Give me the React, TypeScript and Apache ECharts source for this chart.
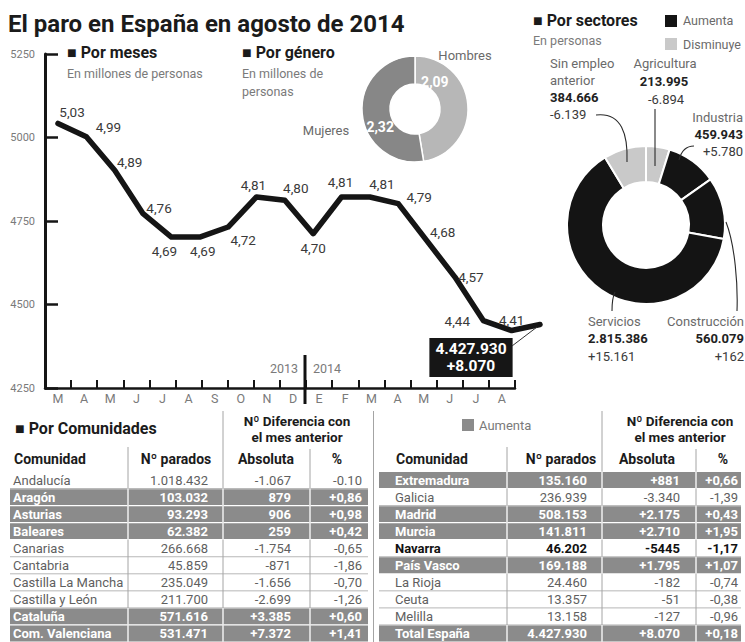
import React, { useEffect, useRef } from "react";
import * as echarts from "echarts";

const FONT = "Roboto, 'Noto Sans', sans-serif";

// ---------- Por meses (miles de personas) ----------
const monthLabels = ["M", "A", "M", "J", "J", "A", "S", "O", "N", "D", "E", "F", "M", "A", "M", "J", "J", "A"];
const paroMiles = [5030, 4990, 4890, 4760, 4690, 4690, 4720, 4810, 4800, 4700, 4810, 4810, 4790, 4680, 4570, 4440, 4410, 4428];
const yMin = 4250;
const yMax = 5250;
const yStep = 250;
const yearLabels = ["2013", "2014"];
const totalParados = 4427930;
const totalCambio = 8070;

// ---------- Por género (millones) ----------
const generoNames = ["Hombres", "Mujeres"];
const generoValues = [2.09, 2.32];

// ---------- Por sectores (personas) ----------
const sectorNames = ["Agricultura", "Industria", "Construcción", "Servicios", "Sin empleo anterior"];
const sectorValues = [213995, 459943, 560079, 2815386, 384666];
const sectorChanges = [-6894, 5780, 162, 15161, -6139];

// ---------- Por comunidades ----------
const comLeftNames = ["Andalucía", "Aragón", "Asturias", "Baleares", "Canarias", "Cantabria", "Castilla La Mancha", "Castilla y León", "Cataluña", "Com. Valenciana"];
const comLeftParados = ["1.018.432", "103.032", "93.293", "62.382", "266.668", "45.859", "235.049", "211.700", "571.616", "531.471"];
const comLeftAbs = ["-1.067", "879", "906", "259", "-1.754", "-871", "-1.656", "-2.699", "+3.385", "+7.372"];
const comLeftPct = ["-0.10", "+0,86", "+0,98", "+0,42", "-0,65", "-1,86", "-0,70", "-1,26", "+0,60", "+1,41"];

const comRightNames = ["Extremadura", "Galicia", "Madrid", "Murcia", "Navarra", "País Vasco", "La Rioja", "Ceuta", "Melilla", "Total España"];
const comRightParados = ["135.160", "236.939", "508.153", "141.811", "46.202", "169.188", "24.460", "13.357", "13.158", "4.427.930"];
const comRightAbs = ["+881", "-3.340", "+2.175", "+2.710", "-5445", "+1.795", "-182", "-51", "-127", "+8.070"];
const comRightPct = ["+0,66", "-1,39", "+0,43", "+1,95", "-1,17", "+1,07", "-0,74", "-0,38", "-0,96", "+0,18"];
const boldRows = ["Navarra"];

// label nudges for the line labels (layout only)
const pointLabelNudge: [number, number][] = [
  [14, -11], [22, -10], [15, -8], [16, -6], [-7, 14], [3, 14], [15, 13], [-3, -12], [11, -12],
  [0, 14], [-1, -15], [12, -13], [21, -7], [16, -8], [16, 0], [-26, 0], [0, -11], [-69, 33],
];
const generoLabelNudge: [number, number][] = [[-22, -24], [7, 15]];

const fmt = (n: number) => Math.abs(n).toString().replace(/\B(?=(\d{3})+(?!\d))/g, ".");
const fmtSigned = (n: number) => (n >= 0 ? "+" : "-") + fmt(n);

function buildOption() {
  const g: any[] = [];
  const T = (x: number, y: number, text: string, o: any = {}) =>
    g.push({
      type: "text",
      x,
      y,
      silent: true,
      z: o.z ?? 10,
      style: {
        text,
        font: `${o.w || "normal"} ${o.s || 13}px ${FONT}`,
        fill: o.c || "#5a5a5a",
        align: o.a || "left",
        textAlign: o.a || "left",
        verticalAlign: "middle",
        textVerticalAlign: "middle",
      },
    });
  const L = (x1: number, y1: number, x2: number, y2: number, c: string, w: number, z = 5) =>
    g.push({ type: "line", silent: true, z, shape: { x1, y1, x2, y2 }, style: { stroke: c, lineWidth: w } });
  const R = (x: number, y: number, w: number, h: number, fill: string, z = 3) =>
    g.push({ type: "rect", silent: true, z, shape: { x, y, width: w, height: h }, style: { fill } });
  const B = (x1: number, y1: number, cpx1: number, cpy1: number, cpx2: number, cpy2: number, x2: number, y2: number) =>
    g.push({
      type: "bezierCurve",
      silent: true,
      z: 5,
      shape: { x1, y1, x2, y2, cpx1, cpy1, cpx2, cpy2 },
      style: { stroke: "#2a2a2a", lineWidth: 1.1, fill: null },
    });

  // Title
  T(8, 24, "El paro en España en agosto de 2014", { w: "bold", s: 24, c: "#1b1b1b" });

  // Por meses headings
  T(67, 52, "■ Por meses", { w: "bold", s: 16, c: "#1b1b1b" });
  T(67, 73, "En millones de personas", { s: 12.5, c: "#7a7a7a" });
  // year divider
  L(305, 355, 305, 404, "#111", 3, 8);
  T(298, 368, yearLabels[0], { s: 12.5, c: "#7a7a7a", a: "right" });
  T(313, 368, yearLabels[1], { s: 12.5, c: "#7a7a7a" });
  // connector to total box
  L(512, 346, 537, 327, "#333", 1, 8);

  // Por género
  T(242, 52, "■ Por género", { w: "bold", s: 16, c: "#1b1b1b" });
  T(242, 73, "En millones de", { s: 12.5, c: "#7a7a7a" });
  T(242, 91, "personas", { s: 12.5, c: "#7a7a7a" });
  T(465, 55, generoNames[0], { s: 13, c: "#6a6a6a", a: "center" });
  T(326, 130, generoNames[1], { s: 13, c: "#6a6a6a", a: "center" });

  // Por sectores
  T(533, 20, "■ Por sectores", { w: "bold", s: 16, c: "#1b1b1b" });
  T(533, 40, "En personas", { s: 12.5, c: "#7a7a7a" });
  R(665, 15, 12, 12, "#141414", 6);
  T(683, 20, "Aumenta", { s: 12.5, c: "#6a6a6a" });
  R(665, 38, 12, 12, "#c9c9c9", 6);
  T(683, 44, "Disminuye", { s: 12.5, c: "#6a6a6a" });

  const nameC = "#6a6a6a";
  const valC = "#222";
  const chgC = "#3a3a3a";
  // Sin empleo anterior (index 4)
  T(550, 63, "Sin empleo", { c: nameC });
  T(550, 80, "anterior", { c: nameC });
  T(550, 97, fmt(sectorValues[4]), { w: "bold", c: valC });
  T(550, 114, fmtSigned(sectorChanges[4]), { c: chgC });
  B(596, 115, 622, 112, 628, 135, 627, 162);
  // Agricultura (0)
  T(665, 63, sectorNames[0], { c: nameC, a: "center" });
  T(664, 81, fmt(sectorValues[0]), { w: "bold", c: valC, a: "center" });
  T(666, 99, fmtSigned(sectorChanges[0]), { c: chgC, a: "center" });
  L(655, 109, 655, 166, "#2a2a2a", 1.1, 5);
  // Industria (1)
  T(743, 117, sectorNames[1], { c: nameC, a: "right" });
  T(743, 134, fmt(sectorValues[1]), { w: "bold", c: valC, a: "right" });
  T(743, 151, fmtSigned(sectorChanges[1]), { c: chgC, a: "right" });
  B(694, 146, 686, 146, 681, 152, 679, 160);
  // Construcción (2)
  T(744, 321, sectorNames[2], { c: nameC, a: "right" });
  T(744, 338, fmt(sectorValues[2]), { w: "bold", c: valC, a: "right" });
  T(744, 356, fmtSigned(sectorChanges[2]), { c: chgC, a: "right" });
  B(726, 222, 735, 245, 738, 285, 737, 311);
  // Servicios (3)
  T(588, 321, sectorNames[3], { c: nameC });
  T(588, 338, fmt(sectorValues[3]), { w: "bold", c: valC });
  T(588, 356, fmtSigned(sectorChanges[3]), { c: chgC });
  B(615, 292, 612, 298, 612, 304, 612, 311);

  // ---------- Tables ----------
  T(15, 428, "■ Por Comunidades", { w: "bold", s: 16, c: "#1b1b1b" });
  R(462, 419, 12, 12, "#8b8b8b", 6);
  T(479, 425, "Aumenta", { s: 13, c: "#7a7a7a" });

  const rowTop = 471.5;
  const rowH = 17.05;
  const bottom = rowTop + rowH * 10;
  const hdr = (cx: number) => {
    T(cx, 421, "Nº Diferencia con", { w: "bold", s: 13.5, c: "#1b1b1b", a: "center" });
    T(cx, 437, "el mes anterior", { w: "bold", s: 13.5, c: "#1b1b1b", a: "center" });
  };
  hdr(297);
  hdr(680);

  const drawTable = (
    names: string[],
    parados: string[],
    abs: string[],
    pct: string[],
    cols: number[],
    tx: number[],
    headCx: number[]
  ) => {
    // column headers
    T(tx[0] + 1, 459, "Comunidad", { w: "bold", s: 14, c: "#1b1b1b" });
    T(headCx[0], 459, "Nº parados", { w: "bold", s: 14, c: "#1b1b1b", a: "center" });
    T(headCx[1], 459, "Absoluta", { w: "bold", s: 14, c: "#1b1b1b", a: "center" });
    T(headCx[2], 459, "%", { w: "bold", s: 14, c: "#1b1b1b", a: "center" });
    // vertical dividers
    L(cols[1], 447, cols[1], bottom, "#9a9a9a", 0.9, 2);
    L(cols[2], 411, cols[2], bottom, "#9a9a9a", 0.9, 2);
    L(cols[3], 449, cols[3], bottom, "#9a9a9a", 0.9, 2);
    names.forEach((n, i) => {
      const y = rowTop + i * rowH;
      const up = pct[i].startsWith("+");
      const bold = boldRows.includes(n);
      if (up) {
        R(cols[0], y + 0.6, cols[4] - cols[0], rowH - 1.2, "#8b8b8b", 3);
        for (let k = 1; k <= 3; k++) L(cols[k], y, cols[k], y + rowH, "#ffffff", 1.3, 4);
      } else if (i < names.length - 1) {
        L(cols[0], y + rowH, cols[4], y + rowH, "#a5a5a5", 0.8, 2);
      }
      const c = up ? "#ffffff" : bold ? "#111" : "#5f5f5f";
      const w = up || bold ? "bold" : "normal";
      const cy = y + rowH / 2 + 0.5;
      T(tx[0], cy, n, { c, w, s: 13 });
      T(tx[1], cy, parados[i], { c, w, s: 13, a: "right" });
      T(tx[2], cy, abs[i], { c, w, s: 13, a: "right" });
      T(tx[3], cy, pct[i], { c, w, s: 13, a: "right" });
    });
  };
  drawTable(comLeftNames, comLeftParados, comLeftAbs, comLeftPct, [10, 128, 223, 310, 368], [13, 208, 291, 362], [176, 266, 337]);
  drawTable(comRightNames, comRightParados, comRightAbs, comRightPct, [379, 507, 602, 696, 741], [395, 587, 680, 738], [561, 647, 723]);
  L(373.5, 411, 373.5, bottom, "#9a9a9a", 0.9, 2);

  const lastIdx = paroMiles.length - 1;

  return {
    animation: false,
    backgroundColor: "#ffffff",
    textStyle: { fontFamily: FONT },
    grid: [
      { left: 45, top: 54, width: 470, height: 334 },
      { left: 58, top: 50, width: 482, height: 334 },
    ],
    xAxis: [
      {
        type: "category",
        gridIndex: 0,
        data: monthLabels,
        boundaryGap: true,
        axisLine: { show: true, lineStyle: { color: "#151515", width: 2.5 } },
        axisTick: { show: true, inside: true, length: 8, lineStyle: { color: "#151515", width: 2 } },
        axisLabel: { color: "#7a7a7a", fontSize: 12.5, margin: 4, fontFamily: FONT },
        splitLine: { show: false },
      },
      { type: "category", gridIndex: 1, data: monthLabels, boundaryGap: false, show: false },
    ],
    yAxis: [
      {
        type: "value",
        gridIndex: 0,
        min: yMin,
        max: yMax,
        interval: yStep,
        axisLine: { show: true, lineStyle: { color: "#151515", width: 3 } },
        axisTick: { show: true, inside: true, length: 13, lineStyle: { color: "#151515", width: 2.5 } },
        axisLabel: { color: "#7a7a7a", fontSize: 11, margin: 10, fontFamily: FONT, formatter: (v: number) => String(v) },
        splitLine: { show: false },
      },
      { type: "value", gridIndex: 1, min: yMin, max: yMax, show: false },
    ],
    series: [
      {
        type: "line",
        xAxisIndex: 1,
        yAxisIndex: 1,
        silent: true,
        symbol: "circle",
        symbolSize: 2,
        itemStyle: { color: "#151515" },
        lineStyle: { color: "#151515", width: 5.5, join: "round", cap: "round" },
        z: 6,
        data: paroMiles.map((v, i) =>
          i === lastIdx
            ? {
                value: v,
                label: {
                  show: true,
                  position: "inside",
                  offset: pointLabelNudge[i],
                  backgroundColor: "#161616",
                  color: "#ffffff",
                  fontWeight: "bold",
                  fontSize: 15.5,
                  lineHeight: 17,
                  padding: [3, 6, 2, 6],
                  align: "center",
                },
              }
            : { value: v, label: { offset: pointLabelNudge[i] } }
        ),
        label: {
          show: true,
          position: "inside",
          color: "#3a3a3a",
          fontSize: 13.5,
          fontFamily: FONT,
          formatter: (p: any) =>
            p.dataIndex === lastIdx
              ? `${fmt(totalParados)}\n${fmtSigned(totalCambio)}`
              : (p.value / 1000).toFixed(2).replace(".", ","),
        },
      },
      {
        type: "pie",
        silent: true,
        center: [415, 109],
        radius: [25, 53],
        startAngle: 90,
        clockwise: true,
        emphasis: { disabled: true },
        itemStyle: { borderColor: "#ffffff", borderWidth: 1.5 },
        data: generoNames.map((n, i) => ({
          name: n,
          value: generoValues[i],
          itemStyle: { color: i === 0 ? "#b7b7b7" : "#878787" },
        })),
        label: {
          show: true,
          position: "inside",
          color: "#ffffff",
          fontWeight: "bold",
          fontSize: 14,
          fontFamily: FONT,
          formatter: (p: any) => p.value.toFixed(2).replace(".", ","),
        },
        labelLayout: (p: any) => ({ dx: generoLabelNudge[p.dataIndex][0], dy: generoLabelNudge[p.dataIndex][1] }),
        labelLine: { show: false },
      },
      {
        type: "pie",
        silent: true,
        center: [646, 225],
        radius: [43, 79],
        startAngle: 90,
        clockwise: true,
        emphasis: { disabled: true },
        itemStyle: { borderColor: "#ffffff", borderWidth: 2 },
        label: { show: false },
        labelLine: { show: false },
        data: sectorNames.map((n, i) => ({
          name: n,
          value: sectorValues[i],
          itemStyle: { color: sectorChanges[i] > 0 ? "#141414" : "#c9c9c9" },
        })),
      },
    ],
    graphic: { elements: g },
  };
}

export default function App() {
  const ref = useRef<HTMLDivElement>(null);
  useEffect(() => {
    if (!ref.current) return;
    const chart = echarts.init(ref.current, null, { renderer: "svg" });
    chart.setOption(buildOption() as any);
    return () => chart.dispose();
  }, []);
  return (
    <div
      ref={ref}
      style={{ position: "fixed", left: 0, top: 0, width: 745, height: 642, background: "#fff" }}
    />
  );
}
